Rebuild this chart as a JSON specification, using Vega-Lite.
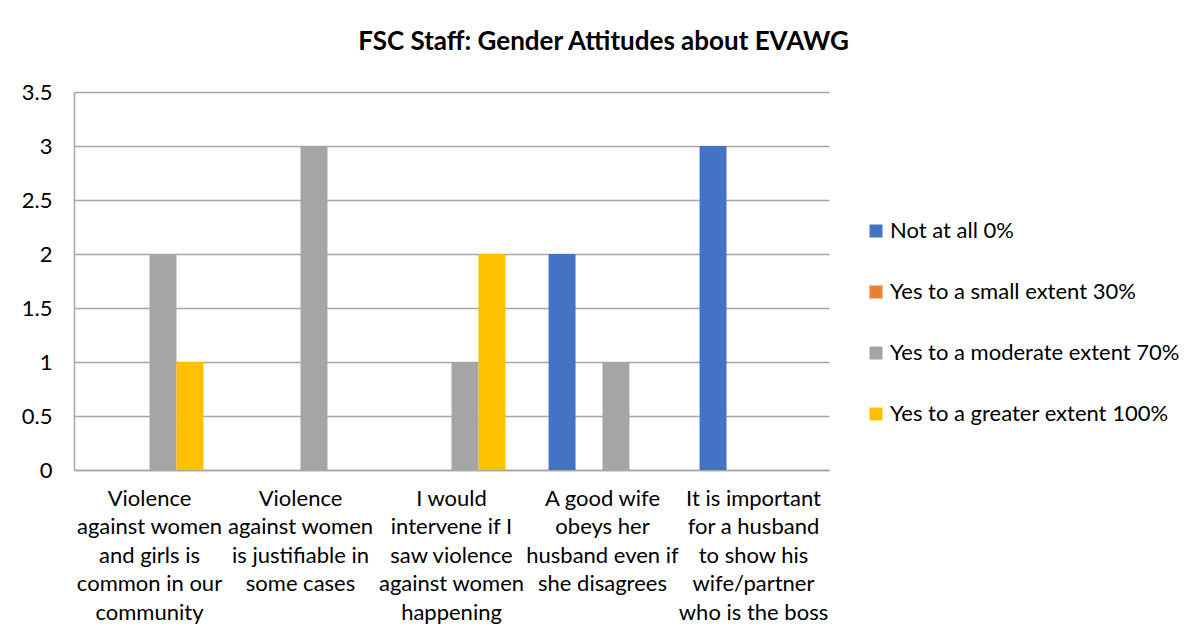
{
  "$schema": "https://vega.github.io/schema/vega-lite/v6.json",
  "width": 755,
  "height": 378,
  "autosize": {"type": "none"},
  "padding": {"left": 74, "top": 92, "right": 367, "bottom": 172},
  "background": "white",
  "title": {
    "text": "FSC Staff: Gender Attitudes about EVAWG",
    "anchor": "middle",
    "frame": "group",
    "dx": 152,
    "offset": 26,
    "font": "Lato",
    "fontSize": 26,
    "fontWeight": "bold",
    "color": "#000000"
  },
  "data": {
    "values": [
      {"statement": "Violence|against women|and girls is|common in our|community", "response": "Not at all 0%", "count": 0},
      {"statement": "Violence|against women|and girls is|common in our|community", "response": "Yes to a small extent 30%", "count": 0},
      {"statement": "Violence|against women|and girls is|common in our|community", "response": "Yes to a moderate extent 70%", "count": 2},
      {"statement": "Violence|against women|and girls is|common in our|community", "response": "Yes to a greater extent 100%", "count": 1},
      {"statement": "Violence|against women|is justifiable in|some cases", "response": "Not at all 0%", "count": 0},
      {"statement": "Violence|against women|is justifiable in|some cases", "response": "Yes to a small extent 30%", "count": 0},
      {"statement": "Violence|against women|is justifiable in|some cases", "response": "Yes to a moderate extent 70%", "count": 3},
      {"statement": "Violence|against women|is justifiable in|some cases", "response": "Yes to a greater extent 100%", "count": 0},
      {"statement": "I would|intervene if I|saw violence|against women|happening", "response": "Not at all 0%", "count": 0},
      {"statement": "I would|intervene if I|saw violence|against women|happening", "response": "Yes to a small extent 30%", "count": 0},
      {"statement": "I would|intervene if I|saw violence|against women|happening", "response": "Yes to a moderate extent 70%", "count": 1},
      {"statement": "I would|intervene if I|saw violence|against women|happening", "response": "Yes to a greater extent 100%", "count": 2},
      {"statement": "A good wife|obeys her|husband even if|she disagrees", "response": "Not at all 0%", "count": 2},
      {"statement": "A good wife|obeys her|husband even if|she disagrees", "response": "Yes to a small extent 30%", "count": 0},
      {"statement": "A good wife|obeys her|husband even if|she disagrees", "response": "Yes to a moderate extent 70%", "count": 1},
      {"statement": "A good wife|obeys her|husband even if|she disagrees", "response": "Yes to a greater extent 100%", "count": 0},
      {"statement": "It is important|for a husband|to show his|wife/partner|who is the boss", "response": "Not at all 0%", "count": 3},
      {"statement": "It is important|for a husband|to show his|wife/partner|who is the boss", "response": "Yes to a small extent 30%", "count": 0},
      {"statement": "It is important|for a husband|to show his|wife/partner|who is the boss", "response": "Yes to a moderate extent 70%", "count": 0},
      {"statement": "It is important|for a husband|to show his|wife/partner|who is the boss", "response": "Yes to a greater extent 100%", "count": 0}
    ]
  },
  "mark": {"type": "bar"},
  "encoding": {
    "x": {
      "field": "statement",
      "type": "nominal",
      "sort": null,
      "scale": {"paddingInner": 0, "paddingOuter": 0},
      "axis": {
        "title": null,
        "labelAngle": 0,
        "labelExpr": "split(datum.label, '|')",
        "labelFont": "Lato",
        "labelFontSize": 22,
        "labelLineHeight": 28.5,
        "labelColor": "#000000",
        "labelPadding": 18,
        "labelLimit": 0,
        "ticks": false,
        "domain": true,
        "domainColor": "#a6a6a6",
        "domainWidth": 1.5,
        "grid": false
      }
    },
    "xOffset": {
      "field": "response",
      "type": "nominal",
      "sort": ["Not at all 0%", "Yes to a small extent 30%", "Yes to a moderate extent 70%", "Yes to a greater extent 100%"],
      "scale": {"paddingInner": 0, "paddingOuter": 0.8}
    },
    "y": {
      "field": "count",
      "type": "quantitative",
      "scale": {"domain": [0, 3.5], "nice": false},
      "axis": {
        "title": null,
        "values": [0, 0.5, 1, 1.5, 2, 2.5, 3, 3.5],
        "format": "~g",
        "labelFont": "Lato",
        "labelFontSize": 22,
        "labelColor": "#000000",
        "labelPadding": 22,
        "ticks": false,
        "domain": true,
        "domainColor": "#a6a6a6",
        "domainWidth": 1.5,
        "grid": true,
        "gridColor": "#a6a6a6",
        "gridWidth": 1.5
      }
    },
    "color": {
      "field": "response",
      "type": "nominal",
      "scale": {
        "domain": ["Not at all 0%", "Yes to a small extent 30%", "Yes to a moderate extent 70%", "Yes to a greater extent 100%"],
        "range": ["#4472C4", "#ED7D31", "#A5A5A5", "#FFC000"]
      },
      "legend": {
        "title": null,
        "orient": "none",
        "legendX": 791,
        "legendY": 128,
        "symbolType": "square",
        "symbolSize": 169,
        "symbolStrokeWidth": 0,
        "labelFont": "Lato",
        "labelFontSize": 22,
        "labelColor": "#000000",
        "labelOffset": 3,
        "labelLimit": 0,
        "rowPadding": 39
      }
    }
  },
  "config": {
    "view": {"stroke": null}
  }
}
